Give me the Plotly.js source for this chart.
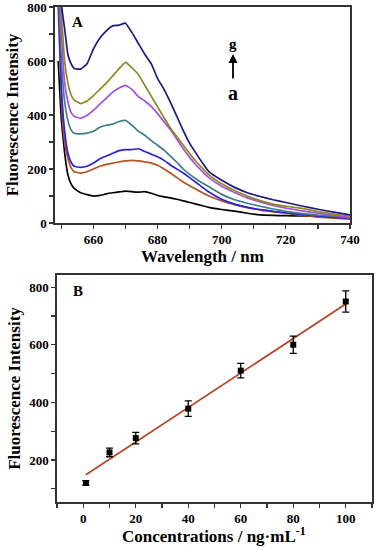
<!DOCTYPE html>
<html>
<head>
<meta charset="utf-8">
<script src="https://cdn.plot.ly/plotly-3.0.1.min.js"></script>
<style>html,body{margin:0;padding:0;background:#fff;}#chart{width:378px;height:550px;}</style>
</head>
<body>
<div id="chart"></div>
<script>
// Panel A: fluorescence spectra (a -> g)
var wavelength = [649,650,651,652,653,654,656,658,660,662,664,666,668,670,672,674,676,678,680,682,684,686,688,690,692,694,696,700,704,708,712,716,720,725,730,735,740];
var curveA = [600,380,260,180,145,128,112,105,100,102,108,112,115,118,116,114,116,110,102,97,93,88,82,76,70,64,58,50,44,36,30,28,27,26,24,22,19];
var curveB = [800,450,300,240,205,190,185,190,200,210,217,222,226,230,232,230,226,222,214,200,185,168,152,138,125,112,100,82,68,57,48,42,36,28,22,18,14];
var curveC = [850,500,340,260,225,210,206,210,222,238,248,258,268,272,272,275,265,255,245,232,215,200,185,168,150,132,115,88,70,58,50,43,38,31,26,21,17];
var curveD = [900,600,450,380,345,332,330,333,340,355,362,366,376,380,362,340,325,305,288,270,248,225,200,180,163,148,134,106,86,73,62,52,43,35,29,25,19];
var curveE = [950,700,520,450,410,395,388,398,418,440,462,485,500,510,495,468,452,432,405,375,346,310,275,243,215,190,168,136,113,93,78,65,55,45,36,28,20];
var curveF = [1000,780,600,520,475,455,442,452,472,495,518,545,572,595,575,550,510,470,430,390,352,320,288,257,228,202,178,145,120,100,83,70,62,54,42,33,25];
var curveG = [1050,810,720,625,590,572,570,590,645,685,712,730,733,740,705,665,625,590,535,495,447,395,342,295,258,222,190,158,132,112,98,86,76,63,51,40,30];
var curveNames = ['a','b','c','d','e','f','g'];
var curveColors = ['#000000','#b8531f','#2a22d8','#3f7d8c','#a64ee0','#8c8a1e','#1c1a80'];

// Panel B: calibration
var concentration = [1,10,20,40,60,80,100];
var intensity = [120,226,276,378,510,600,750];
var intensityErr = [8,15,20,27,25,30,37];

// least-squares fit
var n = concentration.length, sx=0, sy=0, sxx=0, sxy=0;
for (var i=0;i<n;i++){sx+=concentration[i];sy+=intensity[i];sxx+=concentration[i]*concentration[i];sxy+=concentration[i]*intensity[i];}
var slope = (n*sxy - sx*sy)/(n*sxx - sx*sx);
var intercept = (sy - slope*sx)/n;
var fitX = [concentration[0], concentration[n-1]];
var fitY = fitX.map(function(x){return intercept + slope*x;});

var curves = [curveA,curveB,curveC,curveD,curveE,curveF,curveG];
var traces = curves.map(function(c,k){
  return {x: wavelength, y: c, type:'scatter', mode:'lines', name: curveNames[k],
    line:{color: curveColors[k], width:1.7, shape:'spline', smoothing:0.35}, xaxis:'x', yaxis:'y'};
});
traces.push({x: fitX, y: fitY, type:'scatter', mode:'lines', name:'fit',
  line:{color:'#b5472a', width:1.8}, xaxis:'x2', yaxis:'y2'});
traces.push({x: concentration, y: intensity, type:'scatter', mode:'markers', name:'data',
  marker:{symbol:'square', size:6, color:'#000'},
  error_y:{type:'data', array:intensityErr, visible:true, color:'#000', thickness:1.3, width:3.5},
  xaxis:'x2', yaxis:'y2'});

var serif = 'Liberation Serif, Times New Roman, serif';
var tickFont = {family:serif, size:13, color:'#000', weight:700};
var titleFont = {family:serif, size:17, color:'#000', weight:700};
var axisCommon = {showline:true, linecolor:'#333', linewidth:1.6, mirror:true, ticks:'outside', ticklen:4, tickwidth:1.2, tickcolor:'#333',
  showgrid:false, zeroline:false, tickfont:tickFont, automargin:false, ticklabeloverflow:'allow'};

function label(x, y, text, size){
  return {xref:'paper', yref:'paper', x:x/378, y:1-y/550, xanchor:'center', yanchor:'middle', text:text, showarrow:false,
    font:{family:serif, size:size, weight:700, color:'#000'}};
}

var layout = {
  width:378, height:550, margin:{l:0,r:0,t:0,b:0},
  paper_bgcolor:'#fff', plot_bgcolor:'#fff', showlegend:false,
  xaxis: Object.assign({}, axisCommon, {domain:[55/378, 350/378], range:[648,740], tickvals:[660,680,700,720,740],
    minor:{ticks:'outside', ticklen:4, tickcolor:'#333', dtick:10, tick0:0},
    title:{text:'Wavelength / nm', font:titleFont, standoff:0}, anchor:'y'}),
  yaxis: Object.assign({}, axisCommon, {domain:[1-223/550, 1-7/550], range:[0,800], dtick:200, tick0:0,
    minor:{ticks:'outside', ticklen:4, tickcolor:'#333', dtick:100, tick0:0},
    title:{text:'Fluorescence Intensity', font:titleFont, standoff:4}, anchor:'x'}),
  xaxis2: Object.assign({}, axisCommon, {domain:[57/378, 372/378], range:[-10,110], dtick:20, tick0:0,
    minor:{ticks:'outside', ticklen:4, tickcolor:'#333', dtick:10, tick0:0}, anchor:'y2'}),
  yaxis2: Object.assign({}, axisCommon, {domain:[1-502/550, 1-275/550], range:[54,842], dtick:200, tick0:0,
    minor:{ticks:'outside', ticklen:4, tickcolor:'#333', dtick:100, tick0:0},
    title:{text:'Fluorescence Intensity', font:titleFont, standoff:4}, anchor:'x2'}),
  annotations:[
    label(77, 22, 'A', 15),
    label(78, 291, 'B', 15),
    label(233, 44, 'g', 15),
    label(233, 93, 'a', 20),
    label(214, 535, 'Concentrations / ng·mL<sup>-1</sup>', 17),
    {xref:'paper', yref:'paper', x:233/378, y:1-54/550, ax:0, ay:26, text:'', showarrow:true, arrowhead:2, arrowsize:1, arrowwidth:1.8, arrowcolor:'#000'}
  ]
};

Plotly.newPlot('chart', traces, layout, {displayModeBar:false, staticPlot:true});
</script>
</body>
</html>
